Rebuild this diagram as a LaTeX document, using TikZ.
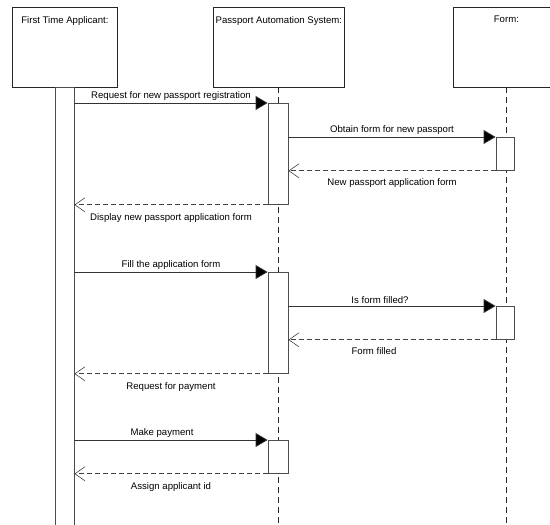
\documentclass[tikz,border=0pt]{standalone}
\usepackage{fontspec}
\setmainfont{Liberation Sans}
\usetikzlibrary{arrows.meta}
\begin{document}
\begin{tikzpicture}[x=1pt,y=-1pt,
  objbox/.style={draw=black!85, line width=0.8pt, fill=white, inner sep=0, minimum height=80pt, anchor=north west},
  objtitle/.style={font=\fontsize{9.6}{11}\selectfont, anchor=north, inner sep=0},
  actbar/.style={draw=black!70, line width=0.8pt, fill=white, inner sep=0, minimum width=20pt, anchor=north},
  lifeline/.style={draw=black!85, line width=0.7pt, dash pattern=on 6pt off 4pt},
  callmsg/.style={draw=black!80, line width=0.8pt, -{Triangle[length=12pt,width=14pt,fill=black]}},
  retmsg/.style={draw=black!75, line width=0.8pt, dash pattern=on 5pt off 3pt, -{Straight Barb[length=10pt,width=14pt,line width=0.6pt]}},
  msglabel/.style={font=\fontsize{9.6}{11}\selectfont, inner sep=1pt}
]
\useasboundingbox (0,0) rectangle (550,525);
\clip (0,0) rectangle (550,525);
\fill[white] (0,0) rectangle (550,525);

% object boxes
\node[objbox, minimum width=105pt] (app) at (12,7) {};
\node[objbox, minimum width=131pt] (pas) at (213,7) {};
\node[objbox, minimum width=106pt] (frm) at (453,7) {};
\node[objtitle] (appT) at ([yshift=-9pt]app.north) {First Time Applicant:};
\node[objtitle] (pasT) at ([yshift=-9pt]pas.north) {Passport Automation System:};
\node[objtitle] (frmT) at ([yshift=-9pt]frm.north) {Form:};

% lifelines
\coordinate (pasL) at (278,87);
\coordinate (pasE) at (278,530);
\coordinate (frmL) at (506,87);
\coordinate (frmE) at (506,530);
\draw[lifeline] (pasL) -- (pasE);
\draw[lifeline] (frmL) -- (frmE);

% applicant activation bar
\node[actbar, minimum width=19pt, minimum height=445pt] (abar) at (64.5,87) {};

% passport activations
\node[actbar, minimum height=101pt] (p1) at (278,103) {};
\node[actbar, minimum height=101pt] (p2) at (278,272) {};
\node[actbar, minimum height=33pt] (p3) at (278,440) {};

% form activations
\node[actbar, minimum width=18pt, minimum height=33pt] (f1) at (505,137) {};
\node[actbar, minimum width=18pt, minimum height=33pt] (f2) at (505,306) {};

% messages
\draw[callmsg] (abar.east |- p1.north) -- node[msglabel, above=1pt] {Request for new passport registration} (p1.north west);
\draw[callmsg] (p1.east |- f1.north) -- node[msglabel, above=1pt] {Obtain form for new passport} (f1.north west);
\draw[retmsg] (f1.south west) -- node[msglabel, below=6pt] {New passport application form} (p1.east |- f1.south);
\draw[retmsg] (p1.south west) -- node[msglabel, below=7pt] {Display new passport application form} (abar.east |- p1.south);

\draw[callmsg] (abar.east |- p2.north) -- node[msglabel, above=1pt] {Fill the application form} (p2.north west);
\draw[callmsg] (p2.east |- f2.north) -- node[msglabel, above=1pt, xshift=-12pt] {Is form filled?} (f2.north west);
\draw[retmsg] (f2.south west) -- node[msglabel, below=6pt, xshift=-18pt] {Form filled} (p2.east |- f2.south);
\draw[retmsg] (p2.south west) -- node[msglabel, below=7pt] {Request for payment} (abar.east |- p2.south);

\draw[callmsg] (abar.east |- p3.north) -- node[msglabel, above=1pt, xshift=-9pt] {Make payment} (p3.north west);
\draw[retmsg] (p3.south west) -- node[msglabel, below=7pt] {Assign applicant id} (abar.east |- p3.south);
\end{tikzpicture}
\end{document}
